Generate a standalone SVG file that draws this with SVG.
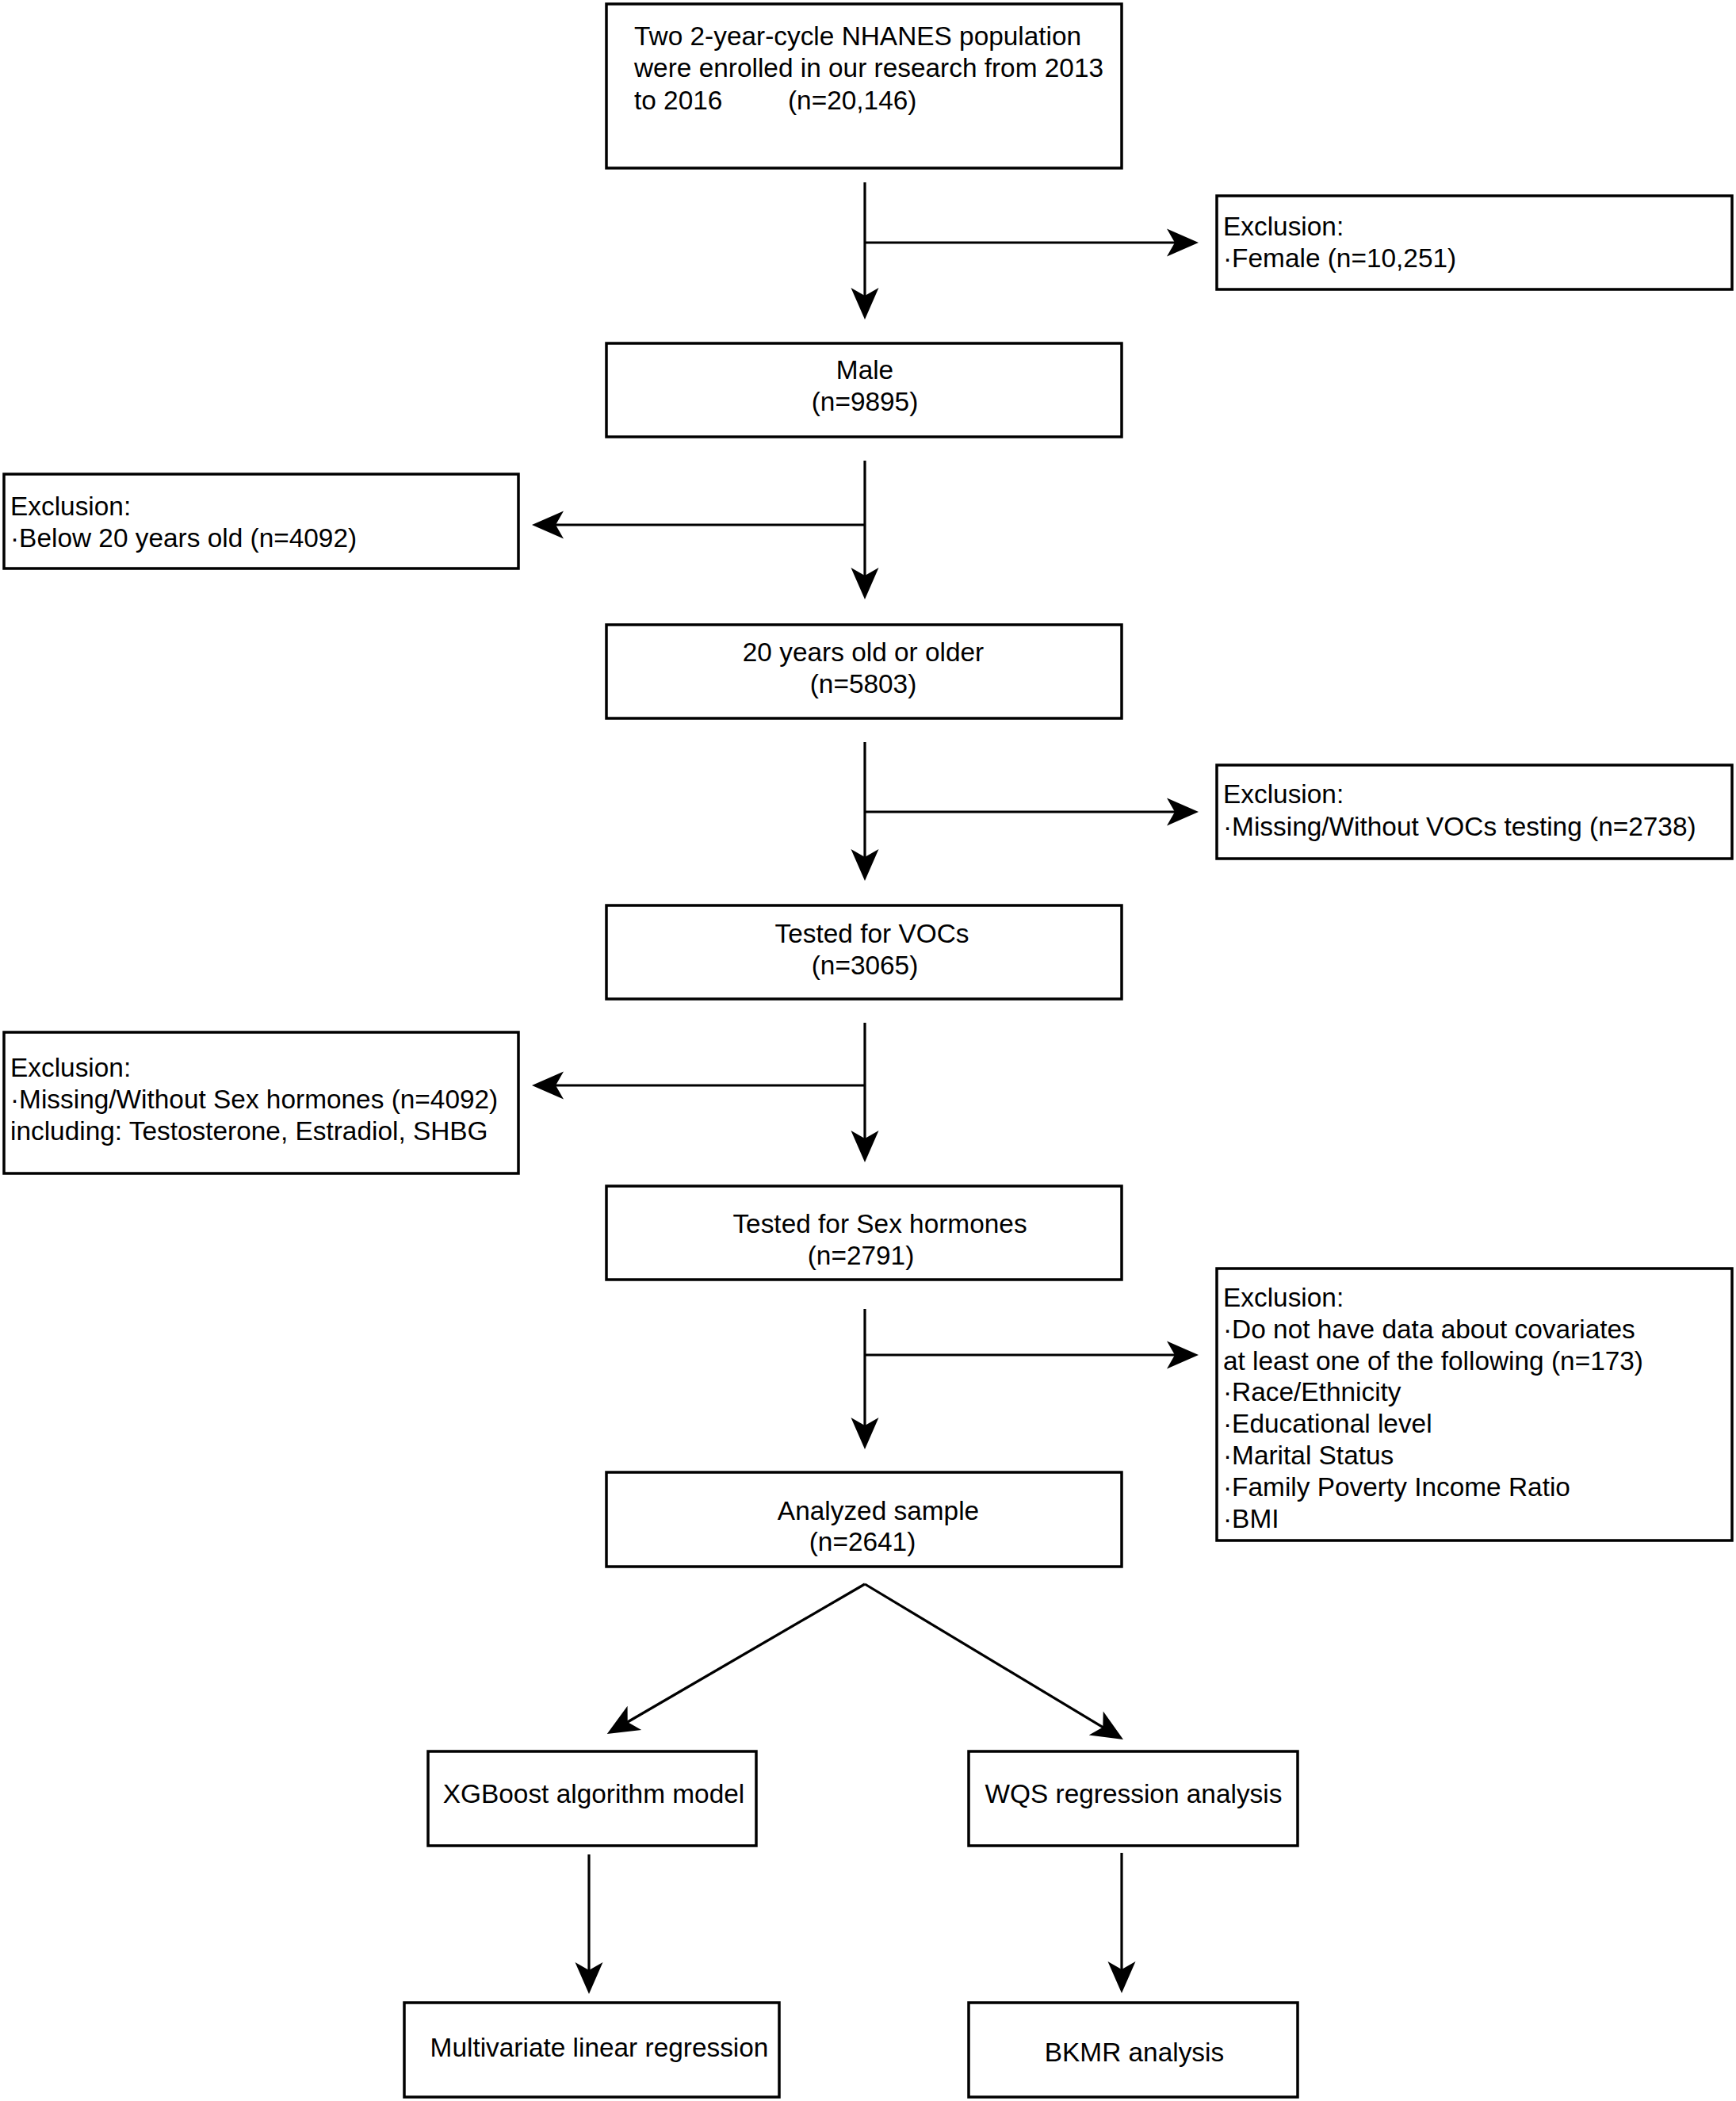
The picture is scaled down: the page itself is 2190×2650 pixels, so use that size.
<svg xmlns="http://www.w3.org/2000/svg" width="2190" height="2650" viewBox="0 0 2190 2650">
<style>
.box{fill:#fff;stroke:#000;stroke-width:3.5}
.t{font-family:"Liberation Sans",Arial,sans-serif;font-size:33.4px;fill:#000}
.m{text-anchor:middle}
.c{fill:none;stroke:#000;stroke-width:3.2}
</style>
<defs>
<marker id="ah" viewBox="-42 -20 44 40" refX="-28" refY="0" markerWidth="44" markerHeight="40" markerUnits="userSpaceOnUse" orient="auto">
<path d="M0,0 L-40,-17.5 L-30,0 L-40,17.5 Z" fill="#000"/>
</marker>
</defs>
<rect width="2190" height="2650" fill="#fff"/>
<g id="connectors">
<line class="c" x1="1091" y1="230" x2="1091" y2="375" marker-end="url(#ah)"/>
<line class="c" x1="1091" y1="306" x2="1484" y2="306" marker-end="url(#ah)"/>
<line class="c" x1="1091" y1="581" x2="1091" y2="728" marker-end="url(#ah)"/>
<line class="c" x1="1091" y1="662" x2="699" y2="662" marker-end="url(#ah)"/>
<line class="c" x1="1091" y1="936" x2="1091" y2="1083" marker-end="url(#ah)"/>
<line class="c" x1="1091" y1="1024" x2="1484" y2="1024" marker-end="url(#ah)"/>
<line class="c" x1="1091" y1="1290" x2="1091" y2="1438" marker-end="url(#ah)"/>
<line class="c" x1="1091" y1="1369" x2="699" y2="1369" marker-end="url(#ah)"/>
<line class="c" x1="1091" y1="1651" x2="1091" y2="1800" marker-end="url(#ah)"/>
<line class="c" x1="1091" y1="1709" x2="1484" y2="1709" marker-end="url(#ah)"/>
<line class="c" x1="1091" y1="1998" x2="790" y2="2173" marker-end="url(#ah)"/>
<line class="c" x1="1091" y1="1998" x2="1393" y2="2179.6" marker-end="url(#ah)"/>
<line class="c" x1="743" y1="2339" x2="743" y2="2487" marker-end="url(#ah)"/>
<line class="c" x1="1415" y1="2337" x2="1415" y2="2486" marker-end="url(#ah)"/>
</g>
<g id="n1"><rect class="box" x="765" y="5" width="650" height="207"/>
<text class="t" x="800" y="57">Two 2-year-cycle NHANES population</text>
<text class="t" x="800" y="97">were enrolled in our research from 2013</text>
<text class="t" x="800" y="138">to 2016</text>
<text class="t" x="994" y="138">(n=20,146)</text></g>
<g id="n2"><rect class="box" x="1535" y="247" width="650" height="118"/>
<text class="t" x="1543" y="297">Exclusion:</text>
<text class="t" x="1543" y="337">·Female (n=10,251)</text></g>
<g id="n3"><rect class="box" x="765" y="433" width="650" height="118"/>
<text class="t m" x="1091" y="478">Male</text>
<text class="t m" x="1091" y="518">(n=9895)</text></g>
<g id="n4"><rect class="box" x="5" y="598" width="649" height="119"/>
<text class="t" x="13" y="650">Exclusion:</text>
<text class="t" x="13" y="690">·Below 20 years old (n=4092)</text></g>
<g id="n5"><rect class="box" x="765" y="788" width="650" height="118"/>
<text class="t m" x="1089" y="834">20 years old or older</text>
<text class="t m" x="1089" y="874">(n=5803)</text></g>
<g id="n6"><rect class="box" x="1535" y="965" width="650" height="118"/>
<text class="t" x="1543" y="1013">Exclusion:</text>
<text class="t" x="1543" y="1054">·Missing/Without VOCs testing (n=2738)</text></g>
<g id="n7"><rect class="box" x="765" y="1142" width="650" height="118"/>
<text class="t m" x="1100" y="1189">Tested for VOCs</text>
<text class="t m" x="1091" y="1229">(n=3065)</text></g>
<g id="n8"><rect class="box" x="5" y="1302" width="649" height="178"/>
<text class="t" x="13" y="1358">Exclusion:</text>
<text class="t" x="13" y="1398">·Missing/Without Sex hormones (n=4092)</text>
<text class="t" x="13" y="1438">including: Testosterone, Estradiol, SHBG</text></g>
<g id="n9"><rect class="box" x="765" y="1496" width="650" height="118"/>
<text class="t m" x="1110" y="1555">Tested for Sex hormones</text>
<text class="t m" x="1086" y="1595">(n=2791)</text></g>
<g id="n10"><rect class="box" x="1535" y="1600" width="650" height="343"/>
<text class="t" x="1543" y="1648">Exclusion:</text>
<text class="t" x="1543" y="1688">·Do not have data about covariates</text>
<text class="t" x="1543" y="1728">at least one of the following (n=173)</text>
<text class="t" x="1543" y="1767">·Race/Ethnicity</text>
<text class="t" x="1543" y="1807">·Educational level</text>
<text class="t" x="1543" y="1847">·Marital Status</text>
<text class="t" x="1543" y="1887">·Family Poverty Income Ratio</text>
<text class="t" x="1543" y="1927">·BMI</text></g>
<g id="n11"><rect class="box" x="765" y="1857" width="650" height="119"/>
<text class="t m" x="1108" y="1917">Analyzed sample</text>
<text class="t m" x="1088" y="1956">(n=2641)</text></g>
<g id="n12"><rect class="box" x="540" y="2209" width="414" height="119"/>
<text class="t m" x="749" y="2274">XGBoost algorithm model</text></g>
<g id="n13"><rect class="box" x="1222" y="2209" width="415" height="119"/>
<text class="t m" x="1430" y="2274">WQS regression analysis</text></g>
<g id="n14"><rect class="box" x="510" y="2526" width="473" height="119"/>
<text class="t m" x="756" y="2594">Multivariate linear regression</text></g>
<g id="n15"><rect class="box" x="1222" y="2526" width="415" height="119"/>
<text class="t m" x="1431" y="2600">BKMR analysis</text></g>
</svg>
